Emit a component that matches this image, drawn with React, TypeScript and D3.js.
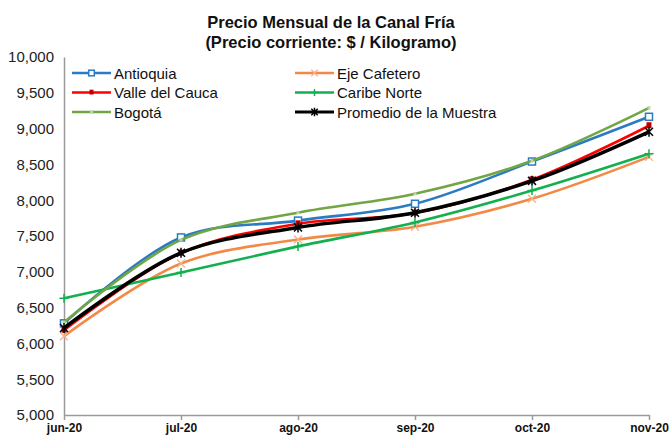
import { useEffect, useRef } from 'react';
import * as d3 from 'd3';

const months = ['jun-20', 'jul-20', 'ago-20', 'sep-20', 'oct-20', 'nov-20'];
const yTicks = [5000, 5500, 6000, 6500, 7000, 7500, 8000, 8500, 9000, 9500, 10000];

const antioquia = [6280, 7480, 7715, 7950, 8540, 9165];
const ejeCafetero = [6100, 7115, 7450, 7630, 8020, 8605];
const valleCauca = [6185, 7260, 7670, 7820, 8285, 9040];
const caribeNorte = [6630, 6990, 7355, 7690, 8135, 8650];
const bogota = [6295, 7445, 7825, 8090, 8550, 9290];
const promedio = [6215, 7265, 7620, 7825, 8270, 8955];

const seriesNames = ['Antioquia', 'Eje Cafetero', 'Valle del Cauca', 'Caribe Norte', 'Bogotá', 'Promedio de la Muestra'];
const seriesValues = [antioquia, ejeCafetero, valleCauca, caribeNorte, bogota, promedio];
const seriesColors = ['#2a7bc4', '#f28a45', '#ff0000', '#12b04f', '#72a645', '#000000'];
const seriesMarkers = ['square', 'x', 'fillsquare', 'plus', 'dash', 'star'];

export default function App() {
    const svgRef = useRef<SVGSVGElement>(null);

    useEffect(() => {
        if (!svgRef.current) return;
        const svg = d3.select(svgRef.current);
        svg.selectAll('*').remove();

        const font = '"Liberation Sans", Arial, sans-serif';
        const left = 64, right = 649, top = 57, bottom = 415;

        const x = d3.scalePoint<string>().domain(months).range([left, right]);
        const y = d3.scaleLinear().domain([5000, 10000]).range([bottom, top]);

        // title
        const title = svg.append('text')
            .attr('font-family', font)
            .attr('font-weight', 'bold')
            .attr('font-size', 16.5)
            .attr('text-anchor', 'middle')
            .attr('fill', '#111');
        title.append('tspan').attr('x', 331).attr('y', 28).text('Precio Mensual de la Canal Fría');
        title.append('tspan').attr('x', 331).attr('y', 48).text('(Precio corriente: $ / Kilogramo)');

        // y axis
        const yAxis = svg.append('g')
            .attr('transform', `translate(${left},0)`)
            .call(d3.axisLeft(y).tickValues(yTicks).tickSize(0).tickPadding(10)
                .tickFormat(d => d3.format(',')(d as number)));
        yAxis.select('.domain').attr('stroke', '#9a9a9a').attr('stroke-width', 1.5);
        yAxis.selectAll('text')
            .attr('font-family', font)
            .attr('font-size', 15)
            .attr('fill', '#222');

        // x axis
        const xAxis = svg.append('g')
            .attr('transform', `translate(0,${bottom})`)
            .call(d3.axisBottom(x).tickSize(5).tickPadding(3).tickSizeOuter(0));
        xAxis.select('.domain').attr('stroke', '#9a9a9a').attr('stroke-width', 1.5);
        xAxis.selectAll('line').attr('stroke', '#9a9a9a').attr('stroke-width', 1.5);
        xAxis.selectAll('text')
            .attr('font-family', font)
            .attr('font-weight', 'bold')
            .attr('font-size', 12)
            .attr('fill', '#111');

        const line = d3.line<number>()
            .x((_, i) => x(months[i]) as number)
            .y(d => y(d))
            .curve(d3.curveCatmullRom.alpha(0.5));

        const drawMarker = (g: d3.Selection<SVGGElement, unknown, null, undefined>, kind: string, cx: number, cy: number, color: string, k = 1) => {
            if (kind === 'square') {
                g.append('rect').attr('x', cx - 3.5 * k).attr('y', cy - 3.5 * k).attr('width', 7 * k).attr('height', 7 * k)
                    .attr('fill', '#fff').attr('stroke', color).attr('stroke-width', 1.5);
            } else if (kind === 'fillsquare') {
                g.append('rect').attr('x', cx - 2.5 * k).attr('y', cy - 3.5 * k).attr('width', 5 * k).attr('height', 6 * k)
                    .attr('fill', '#c00000');
            } else if (kind === 'x') {
                const s = 4 * k;
                g.append('path').attr('d', `M${cx - s},${cy - s}L${cx + s},${cy + s}M${cx - s},${cy + s}L${cx + s},${cy - s}`)
                    .attr('stroke', '#f7b089').attr('stroke-width', 1.3);
            } else if (kind === 'plus') {
                const s = 4.5 * k;
                g.append('path').attr('d', `M${cx - s},${cy}L${cx + s},${cy}M${cx},${cy - s}L${cx},${cy + s}`)
                    .attr('stroke', color).attr('stroke-width', 1.5);
            } else if (kind === 'dash') {
                g.append('rect').attr('x', cx - 1.5).attr('y', cy - 1.5).attr('width', 3).attr('height', 3)
                    .attr('fill', '#b9d69e');
            } else if (kind === 'star') {
                const s = 4 * k;
                g.append('path').attr('d', `M${cx - s},${cy - s}L${cx + s},${cy + s}M${cx - s},${cy + s}L${cx + s},${cy - s}M${cx},${cy - s - 1}L${cx},${cy + s + 1}`)
                    .attr('stroke', color).attr('stroke-width', 1.5);
            }
        };

        // series
        seriesValues.forEach((vals, si) => {
            const g = svg.append('g');
            g.append('path')
                .datum(vals)
                .attr('d', line)
                .attr('fill', 'none')
                .attr('stroke', seriesColors[si])
                .attr('stroke-width', si === 5 ? 3.5 : 2.6)
                .attr('stroke-linejoin', 'round');
            vals.forEach((v, i) => drawMarker(g, seriesMarkers[si], x(months[i]) as number, y(v), seriesColors[si]));
        });

        // legend
        const legend = svg.append('g');
        seriesNames.forEach((name, i) => {
            const col = i % 2, row = Math.floor(i / 2);
            const lx = col === 0 ? 72 : 295;
            const ly = 73 + row * 19.5;
            const g = legend.append('g');
            g.append('line')
                .attr('x1', lx).attr('x2', lx + 39)
                .attr('y1', ly).attr('y2', ly)
                .attr('stroke', seriesColors[i])
                .attr('stroke-width', i === 5 ? 3.2 : 2.3);
            drawMarker(g, seriesMarkers[i], lx + 19.5, ly, seriesColors[i], 0.8);
            g.append('text')
                .attr('x', lx + 42)
                .attr('y', ly + 5.5)
                .attr('font-family', font)
                .attr('font-size', 15)
                .attr('fill', '#111')
                .text(name);
        });
    }, []);

    return (
        <svg ref={svgRef} width={672} height={436}
            style={{ position: 'absolute', left: 0, top: 0, background: '#fff' }} />
    );
}
